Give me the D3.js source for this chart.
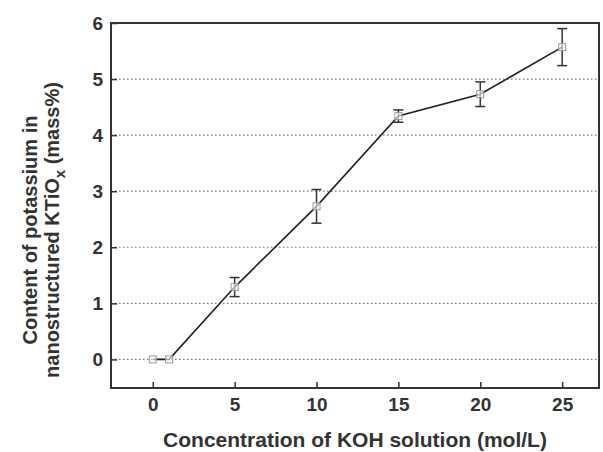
<!DOCTYPE html>
<html>
<head>
<meta charset="utf-8">
<script src="https://cdn.jsdelivr.net/npm/d3@7"></script>
<style>
  body { margin: 0; background: #fff; }
  text { font-family: "Liberation Sans", Arial, sans-serif; font-weight: bold; fill: #333; }
</style>
</head>
<body>
<div id="chart"></div>
<script>
// KOH concentration (mol/L)
const concentrations = [0, 1, 5, 10, 15, 20, 25];
// potassium content (mass%)
const potassium = [0, 0, 1.29, 2.73, 4.34, 4.73, 5.57];
// error bar half-widths
const errors = [0, 0, 0.17, 0.30, 0.11, 0.22, 0.33];
const xTicks = [0, 5, 10, 15, 20, 25];
const yTicks = [0, 1, 2, 3, 4, 5, 6];
const gridLevels = [0, 1, 2, 3, 4, 5];

const width = 603, height = 452;
const margin = {top: 23, right: 4, bottom: 64, left: 111};

const svg = d3.select("#chart").append("svg")
    .attr("width", width)
    .attr("height", height);

const x = d3.scaleLinear()
    .domain([-2.55, 27.25])
    .range([margin.left, width - margin.right]);

const y = d3.scaleLinear()
    .domain([-0.51, 6])
    .range([height - margin.bottom, margin.top]);

// dotted grid
svg.append("g")
    .selectAll("line")
    .data(gridLevels)
    .enter().append("line")
    .attr("x1", x.range()[0])
    .attr("x2", x.range()[1])
    .attr("y1", d => y(d))
    .attr("y2", d => y(d))
    .attr("stroke", "#777")
    .attr("stroke-width", 1.2)
    .attr("stroke-dasharray", "1.5,2.5");

// axes with inward ticks
const xAxis = d3.axisBottom(x).tickValues(xTicks).tickFormat(d3.format("d")).tickSize(-6).tickPadding(10);
svg.append("g")
    .attr("transform", "translate(0," + y.range()[0] + ")")
    .call(xAxis)
    .call(g => g.select(".domain").remove())
    .call(g => g.selectAll(".tick line").attr("stroke", "#333").attr("stroke-width", 1.5))
    .call(g => g.selectAll(".tick text").attr("font-size", 19).attr("fill", "#333"));

const yAxis = d3.axisLeft(y).tickValues(yTicks).tickFormat(d3.format("d")).tickSize(-6).tickPadding(8);
svg.append("g")
    .attr("transform", "translate(" + x.range()[0] + ",0)")
    .call(yAxis)
    .call(g => g.select(".domain").remove())
    .call(g => g.selectAll(".tick line").attr("stroke", "#333").attr("stroke-width", 1.5))
    .call(g => g.selectAll(".tick text").attr("font-size", 19).attr("fill", "#333"));

// frame
svg.append("rect")
    .attr("x", x.range()[0])
    .attr("y", y.range()[1])
    .attr("width", x.range()[1] - x.range()[0])
    .attr("height", y.range()[0] - y.range()[1])
    .attr("fill", "none")
    .attr("stroke", "#333")
    .attr("stroke-width", 2);

const points = concentrations.map((c, i) => ({c: c, v: potassium[i], e: errors[i]}));

// connecting line
svg.append("path")
    .datum(points)
    .attr("fill", "none")
    .attr("stroke", "#222")
    .attr("stroke-width", 1.6)
    .attr("d", d3.line().x(d => x(d.c)).y(d => y(d.v)));

// error bars
const bars = svg.append("g")
    .selectAll("g")
    .data(points.filter(d => d.e > 0))
    .enter().append("g")
    .attr("stroke", "#333")
    .attr("stroke-width", 1.5);

bars.append("line")
    .attr("x1", d => x(d.c)).attr("x2", d => x(d.c))
    .attr("y1", d => y(d.v + d.e)).attr("y2", d => y(d.v - d.e));
bars.append("line")
    .attr("x1", d => x(d.c) - 5).attr("x2", d => x(d.c) + 5)
    .attr("y1", d => y(d.v + d.e)).attr("y2", d => y(d.v + d.e));
bars.append("line")
    .attr("x1", d => x(d.c) - 5).attr("x2", d => x(d.c) + 5)
    .attr("y1", d => y(d.v - d.e)).attr("y2", d => y(d.v - d.e));

// open square markers
svg.append("g")
    .selectAll("rect")
    .data(points)
    .enter().append("rect")
    .attr("x", d => x(d.c) - 3.5)
    .attr("y", d => y(d.v) - 3.5)
    .attr("width", 7)
    .attr("height", 7)
    .attr("fill", "#fff")
    .attr("fill-opacity", 0.6)
    .attr("stroke", "#999")
    .attr("stroke-width", 1);

// axis titles
svg.append("text")
    .attr("x", (x.range()[0] + x.range()[1]) / 2)
    .attr("y", 447)
    .attr("text-anchor", "middle")
    .attr("font-size", 21)
    .text("Concentration of KOH solution (mol/L)");

const yTitle = svg.append("text")
    .attr("transform", "translate(37,230) rotate(-90)")
    .attr("text-anchor", "middle")
    .attr("font-size", 20);
yTitle.append("tspan")
    .attr("x", 0).attr("y", 0)
    .text("Content of potassium in");
const line2 = yTitle.append("tspan")
    .attr("x", 0).attr("y", 22);
line2.append("tspan").text("nanostructured KTiO");
line2.append("tspan").attr("dy", 6).attr("font-size", 15).text("x");
line2.append("tspan").attr("dy", -6).text(" (mass%)");
</script>
</body>
</html>
